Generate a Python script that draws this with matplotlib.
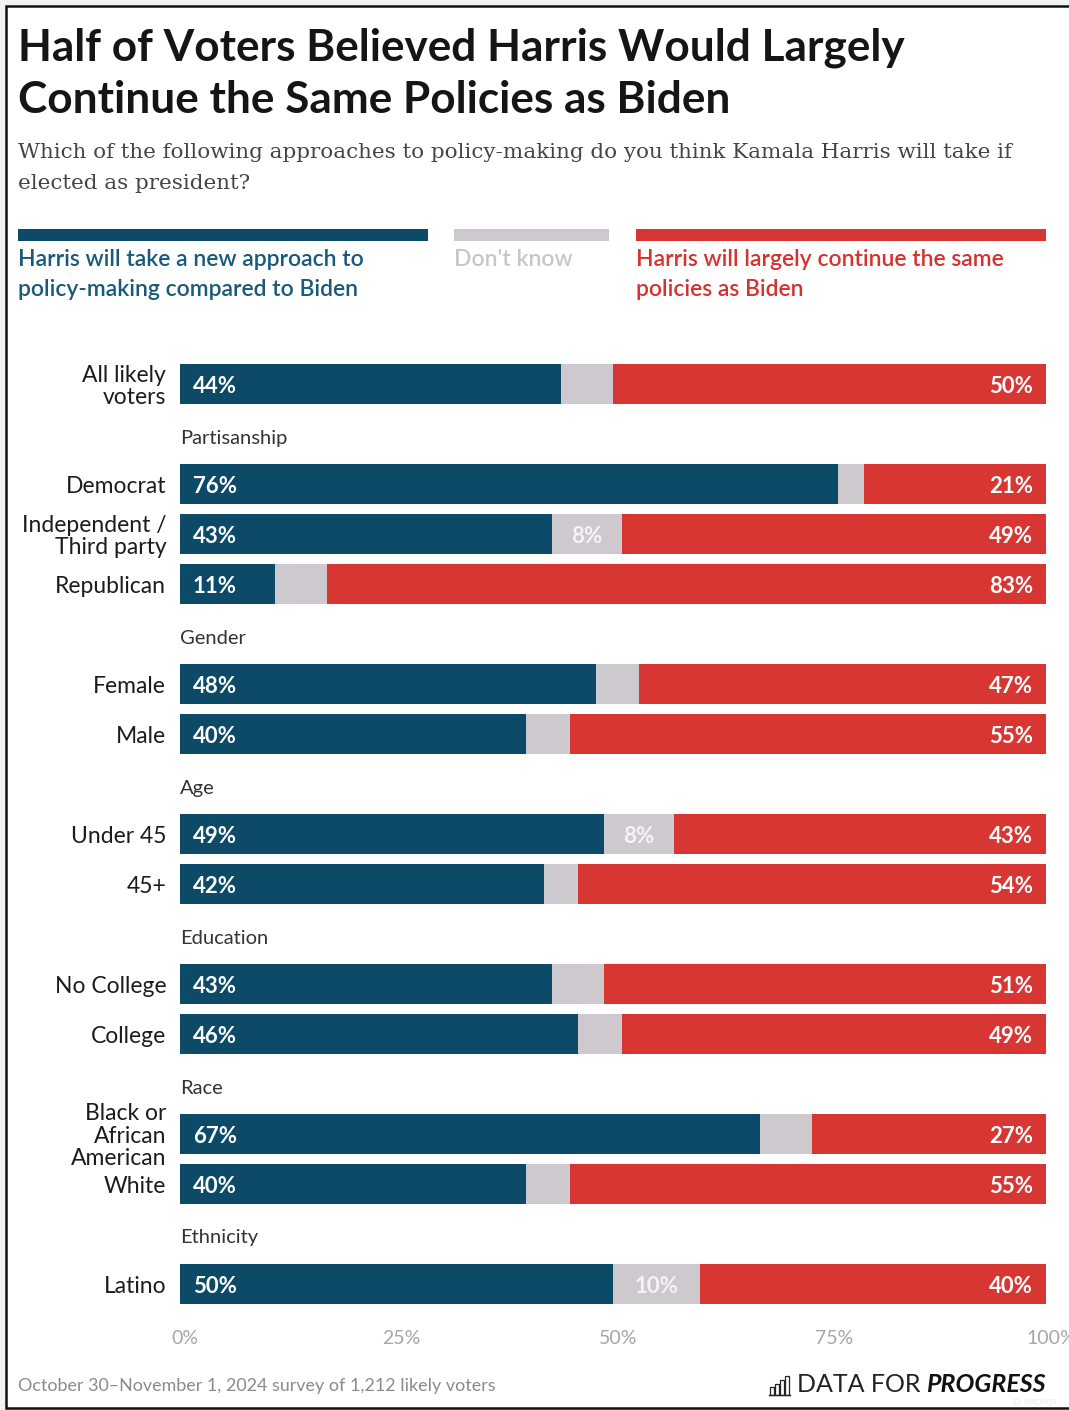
import matplotlib.pyplot as plt
import matplotlib.transforms as mtransforms
from matplotlib.patches import Rectangle

W, H = 1069, 1410

BLUE = '#0c4a68'
GRAY = '#cdc9ce'
RED = '#d73633'

# survey data
groups = ['', 'Partisanship', 'Gender', 'Age', 'Education', 'Race', 'Ethnicity']
group_rows = [
    ['All likely\nvoters'],
    ['Democrat', 'Independent /\nThird party', 'Republican'],
    ['Female', 'Male'],
    ['Under 45', '45+'],
    ['No College', 'College'],
    ['Black or\nAfrican\nAmerican', 'White'],
    ['Latino'],
]
new_approach = [44, 76, 43, 11, 48, 40, 49, 42, 43, 46, 67, 40, 50]
dont_know = [6, 3, 8, 6, 5, 5, 8, 4, 6, 5, 6, 5, 10]
same_policies = [50, 21, 49, 83, 47, 55, 43, 54, 51, 49, 27, 55, 40]
ticks = [0, 25, 50, 75, 100]

plt.rcParams['font.family'] = ['Lato', 'DejaVu Sans']

fig = plt.figure(figsize=(W / 100, H / 100), dpi=100, facecolor='#f1f2f4')

# full-figure pixel canvas for the frame, titles, legend and footer
bg = fig.add_axes([0, 0, 1, 1])
bg.set_xlim(0, W)
bg.set_ylim(H, 0)
bg.axis('off')
bg.add_patch(Rectangle((6, 6), W + 20, 1402, facecolor='white',
                       edgecolor='#111111', lw=1.8))

bg.text(18, 60, 'Half of Voters Believed Harris Would Largely', fontsize=31.8,
        fontweight='bold', color='#151515', va='baseline')
bg.text(18, 113, 'Continue the Same Policies as Biden', fontsize=31.8,
        fontweight='bold', color='#151515', va='baseline')
sub_font = dict(fontsize=15.4, color='#444444', va='baseline', family='DejaVu Serif')
bg.text(18, 158, 'Which of the following approaches to policy-making do you think '
        'Kamala Harris will take if', **sub_font)
bg.text(18, 189, 'elected as president?', **sub_font)

# legend strips
legend = [
    (18, 428, BLUE, '#185a7a', ['Harris will take a new approach to',
                                'policy-making compared to Biden']),
    (454, 609, GRAY, '#c9c6cb', ["Don't know"]),
    (636, 1046, RED, '#d6322f', ['Harris will largely continue the same',
                                 'policies as Biden']),
]
for x0, x1, c, tc, lines in legend:
    bg.add_patch(Rectangle((x0, 229), x1 - x0, 12, facecolor=c, lw=0))
    for i, ln in enumerate(lines):
        bg.text(x0, 260 + 29 * i, ln, fontsize=16.5, fontweight='semibold',
                color=tc, va='center')

# bars, one slot per row plus a slot for each group heading
ax = fig.add_axes([180 / W, 1 - 1309 / H, 866 / W, 950 / H])
ax.patch.set_alpha(0)
ax.set_xlim(0, 100)
ax.set_ylim(18.5, -0.5)

slots, labels, headers = [], [], []
s = 0
for g, rows in zip(groups, group_rows):
    if g:
        headers.append((s, g))
        s += 1
    for r in rows:
        slots.append(s)
        labels.append(r)
        s += 1

lefts_gray = [a for a in new_approach]
lefts_red = [a + d for a, d in zip(new_approach, dont_know)]
ax.barh(slots, new_approach, height=0.8, color=BLUE, lw=0)
ax.barh(slots, dont_know, left=lefts_gray, height=0.8, color=GRAY, lw=0)
ax.barh(slots, same_policies, left=lefts_red, height=0.8, color=RED, lw=0)

val_font = dict(fontsize=16, fontweight='bold', va='center')
for y, a, d, r, lab in zip(slots, new_approach, dont_know, same_policies, labels):
    yt = y + 0.045
    ax.text(1.5, yt, f'{a}%', color='white', ha='left', **val_font)
    ax.text(98.5, yt, f'{r}%', color='white', ha='right', **val_font)
    if d >= 8:
        ax.text(a + d / 2, yt, f'{d}%', color='#f4f3f5', ha='center', **val_font)
    ax.text(-1.6, yt, lab, fontsize=16.5, color='#1c1c1c', ha='right', va='center',
            linespacing=1.08)

for y, g in headers:
    ax.text(0, y + 0.08, g, fontsize=14.5, color='#333333', ha='left', va='center')

ax.set_yticks([])
ax.set_xticks(ticks)
ax.set_xticklabels([f'{t}%' for t in ticks], fontsize=14, color='#a6a6a6')
ax.tick_params(axis='x', length=0, pad=15)
shift = mtransforms.ScaledTranslation(5 / 100, 0, fig.dpi_scale_trans)
for lbl in ax.get_xticklabels():
    lbl.set_transform(lbl.get_transform() + shift)
for sp in ax.spines.values():
    sp.set_visible(False)

# footer
bg.text(18, 1386, 'October 30\u2013November 1, 2024 survey of 1,212 likely voters',
        fontsize=12.9, color='#8a8a8a', va='center')
prog = bg.text(1046, 1385, 'PROGRESS', fontsize=18, fontweight='bold',
               style='italic', color='#111111', ha='right', va='center')
fig.canvas.draw()
px0 = bg.transData.inverted().transform(
    prog.get_window_extent(fig.canvas.get_renderer()).get_points())[0][0]
dfor = bg.text(px0 - 6, 1385, 'DATA FOR', fontsize=18, fontweight='normal',
               color='#222222', ha='right', va='center')
dx0 = bg.transData.inverted().transform(
    dfor.get_window_extent(fig.canvas.get_renderer()).get_points())[0][0]

# small bar-chart logo mark
ix = dx0 - 27
for i, hgt in enumerate([8, 11, 15, 19]):
    bg.add_patch(Rectangle((ix + 5 * i, 1395 - hgt), 4, hgt, facecolor='none',
                           edgecolor='#222222', lw=0.9))
bg.plot([ix - 1, ix + 20], [1395, 1395], color='#222222', lw=1)
bg.text(1012, 1402, 'ID: 9MDPQ9', fontsize=5.5, color='#e8e8e8', va='center')

fig.savefig('out.png', dpi=100, facecolor=fig.get_facecolor())
